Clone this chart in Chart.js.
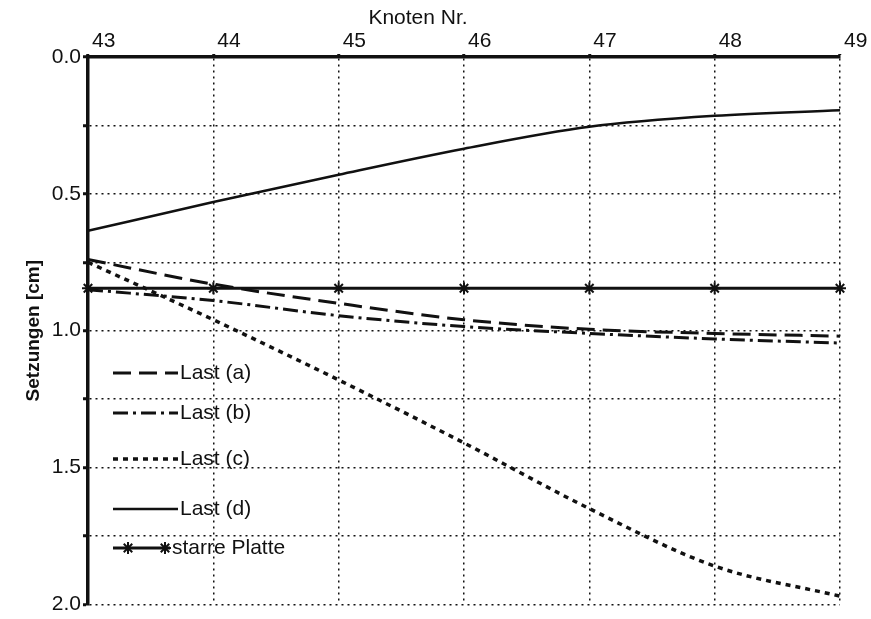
<!DOCTYPE html>
<html>
<head>
<meta charset="utf-8">
<script src="https://cdn.jsdelivr.net/npm/chart.js@4.4.1/dist/chart.umd.min.js"></script>
<style>
  html, body { margin: 0; padding: 0; background: #fff; }
  #wrap { width: 871px; height: 619px; }
</style>
</head>
<body>
<div id="wrap"><canvas id="setzungChart" width="871" height="619"></canvas></div>
<script>
// Knoten along the top axis
const knoten = ["43", "44", "45", "46", "47", "48", "49"];

// settlements in cm
const lastA = [0.74, 0.83, 0.90, 0.96, 0.995, 1.01, 1.02];
const lastB = [0.85, 0.89, 0.945, 0.985, 1.01, 1.03, 1.045];
const lastC = [0.75, 0.96, 1.18, 1.41, 1.65, 1.86, 1.97];
const lastD = [0.635, 0.53, 0.43, 0.335, 0.255, 0.215, 0.195];
const starrePlatte = [0.845, 0.845, 0.845, 0.845, 0.845, 0.845, 0.845];

const seriesNames = ["Last (a)", "Last (b)", "Last (c)", "Last (d)", "starre Platte"];
const xTitle = "Knoten Nr.";
const yTitle = "Setzungen [cm]";
const yMin = 0;
const yMax = 2;
const yStep = 0.25;

const FONT = "'Liberation Sans', Arial, sans-serif";
const INK = "#111";

// the x title sits left of centre in the original, so draw it by hand
const topTitle = {
  id: "topTitle",
  afterDraw(chart) {
    const ctx = chart.ctx;
    ctx.save();
    ctx.font = "21px " + FONT;
    ctx.fillStyle = INK;
    ctx.textAlign = "center";
    ctx.textBaseline = "middle";
    ctx.fillText(xTitle, 418, 18);
    ctx.restore();
  }
};

// legend drawn inside the plot, like the original figure
const insideLegend = {
  id: "insideLegend",
  afterDatasetsDraw(chart) {
    const ctx = chart.ctx;
    const rows = [373, 413, 459, 509, 548];
    ctx.save();
    ctx.font = "21px " + FONT;
    ctx.textBaseline = "middle";
    ctx.fillStyle = INK;
    chart.data.datasets.forEach((ds, i) => {
      const y = rows[i];
      const withMarks = ds.pointRadius > 0;
      ctx.strokeStyle = ds.borderColor;
      ctx.lineWidth = ds.borderWidth;
      ctx.setLineDash(ds.borderDash || []);
      ctx.beginPath();
      ctx.moveTo(113, y);
      ctx.lineTo(withMarks ? 170 : 178, y);
      ctx.stroke();
      ctx.setLineDash([]);
      if (withMarks) {
        ctx.strokeStyle = ds.pointBorderColor;
        ctx.lineWidth = ds.pointBorderWidth;
        [128, 165].forEach(px => {
          Chart.helpers.drawPoint(ctx, {
            pointStyle: ds.pointStyle,
            radius: ds.pointRadius,
            borderWidth: ds.pointBorderWidth,
            rotation: 0
          }, px, y);
        });
        ctx.fillStyle = INK;
        ctx.fillText(ds.label, 172, y);
      } else {
        ctx.fillText(ds.label, 180, y);
      }
    });
    ctx.restore();
  }
};

function buildDatasets() {
  const base = {
    borderColor: INK,
    backgroundColor: INK,
    fill: false,
    pointRadius: 0,
    cubicInterpolationMode: "monotone"
  };
  return [
    Object.assign({}, base, { label: seriesNames[0], data: lastA, borderWidth: 3, borderDash: [18, 8] }),
    Object.assign({}, base, { label: seriesNames[1], data: lastB, borderWidth: 3, borderDash: [15, 5, 3, 5] }),
    Object.assign({}, base, { label: seriesNames[2], data: lastC, borderWidth: 3.5, borderDash: [5, 5] }),
    Object.assign({}, base, { label: seriesNames[3], data: lastD, borderWidth: 2.5 }),
    Object.assign({}, base, {
      label: seriesNames[4], data: starrePlatte, borderWidth: 3,
      pointRadius: 6, pointStyle: "star", pointBorderWidth: 2,
      pointBorderColor: INK, pointBackgroundColor: INK
    })
  ];
}

document.addEventListener("DOMContentLoaded", () => {
  const ctx = document.getElementById("setzungChart").getContext("2d");
  new Chart(ctx, {
    type: "line",
    data: { labels: knoten, datasets: buildDatasets() },
    options: {
      responsive: false,
      animation: false,
      layout: { padding: { left: 0, right: 31, top: 0, bottom: 6 } },
      plugins: {
        legend: { display: false },
        tooltip: { enabled: false }
      },
      scales: {
        x: {
          position: "top",
          offset: false,
          afterFit: s => { s.height = 57; },
          title: { display: false, text: xTitle },
          ticks: { color: INK, align: "start", padding: 0, labelOffset: 4, font: { family: FONT, size: 21 }, maxRotation: 0 },
          grid: { color: INK, lineWidth: 1.5, tickLength: 3, tickBorderDash: [], tickWidth: 3 },
          border: { display: true, color: INK, width: 3.5, dash: [2, 4] }
        },
        y: {
          reverse: true,
          min: yMin,
          max: yMax,
          afterFit: s => { s.width = 88; },
          title: { display: true, text: yTitle, color: INK, font: { family: FONT, size: 19, weight: "bold" }, padding: { top: 22, bottom: 0 } },
          ticks: {
            stepSize: yStep,
            color: INK,
            padding: 2,
            font: { family: FONT, size: 21 },
            callback: v => (Math.abs(v * 2 - Math.round(v * 2)) < 1e-6 ? v.toFixed(1) : "")
          },
          grid: { color: INK, lineWidth: 1.5, tickLength: 5, tickBorderDash: [], tickWidth: 3 },
          border: { display: true, color: INK, width: 3.5, dash: [2, 4] }
        }
      }
    },
    plugins: [insideLegend, topTitle]
  });
});
</script>
</body>
</html>
